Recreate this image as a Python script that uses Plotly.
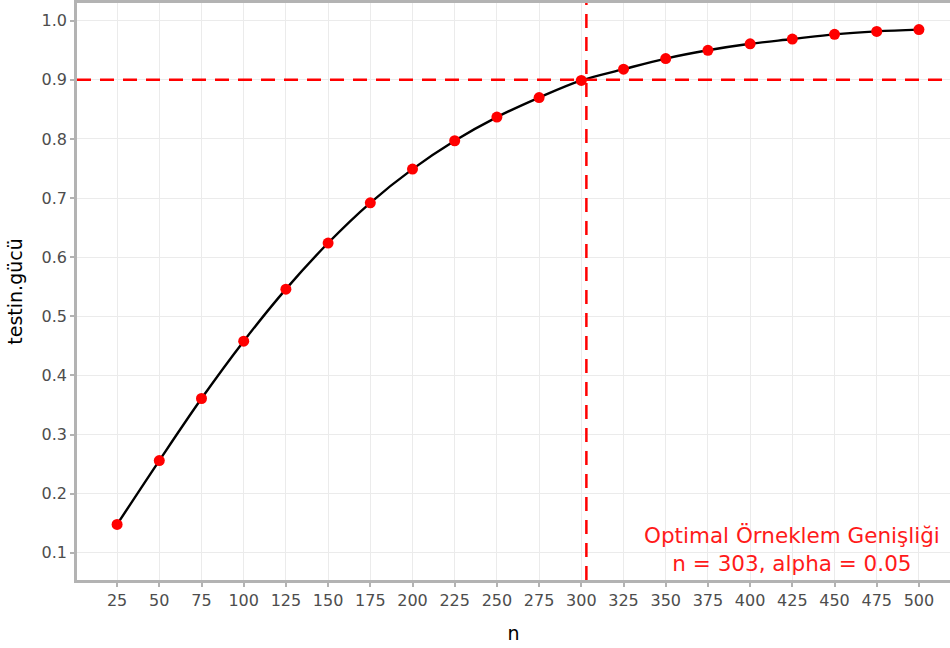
import plotly.graph_objects as go

n_values = [25, 50, 75, 100, 125, 150, 175, 200, 225, 250, 275, 300,
            325, 350, 375, 400, 425, 450, 475, 500]
power_values = [0.148, 0.256, 0.361, 0.458, 0.546, 0.624, 0.692, 0.749,
                0.797, 0.837, 0.870, 0.899, 0.918, 0.936, 0.950, 0.961,
                0.969, 0.977, 0.982, 0.985]
target_power = 0.9
optimal_n = 303
alpha = 0.05
x_ticks = n_values
y_ticks = [0.1, 0.2, 0.3, 0.4, 0.5, 0.6, 0.7, 0.8, 0.9, 1.0]

fig = go.Figure()
fig.add_trace(go.Scatter(
    x=n_values, y=power_values, mode="lines",
    line=dict(color="black", width=2.4, shape="spline"),
    showlegend=False, hoverinfo="skip"))
fig.add_trace(go.Scatter(
    x=n_values, y=power_values, mode="markers",
    marker=dict(color="#FF0000", size=11),
    showlegend=False))

fig.add_hline(y=target_power, line=dict(color="#FF0000", width=2.5, dash="14px,9px"))
fig.add_vline(x=optimal_n, line=dict(color="#FF0000", width=2.5, dash="14px,9px"))

fig.add_annotation(
    x=424.6, y=0.058, xref="x", yref="y", xanchor="center", yanchor="bottom",
    text=f"Optimal Örneklem Genişliği<br>n = {optimal_n}, alpha = {alpha}",
    showarrow=False, align="center",
    font=dict(family="DejaVu Sans", size=21.5, color="#FF1A1A"))

axis_common = dict(
    showgrid=True, gridcolor="#EBEBEB", gridwidth=1, automargin=False,
    zeroline=False, showline=True, linecolor="#B3B3B3", linewidth=2.5,
    ticks="outside", ticklen=4, tickcolor="#B3B3B3", tickwidth=1.5,
    tickfont=dict(family="DejaVu Sans", size=16, color="#4D4D4D"),
)

fig.update_layout(
    width=950, height=648,
    margin=dict(l=77, r=0, t=3, b=68),
    plot_bgcolor="white", paper_bgcolor="white",
    font=dict(family="DejaVu Sans"),
    xaxis=dict(range=[1.25, 518.4], tickvals=x_ticks, mirror=True,
               title=dict(text="n", font=dict(size=19, color="black"), standoff=18),
               **axis_common),
    yaxis=dict(range=[0.054, 1.03], tickvals=y_ticks, tickformat=".1f",
               title=dict(text="testin.gücü", font=dict(size=19, color="black"), standoff=14),
               **axis_common),
)

fig.write_html(
    "out.html",
    config={"displayModeBar": False},
    post_script="document.body.style.margin='0';document.body.style.overflow='hidden';"
)
